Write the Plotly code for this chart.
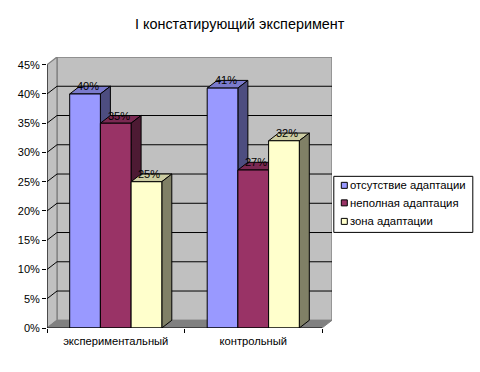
import plotly.graph_objects as go

categories = ["экспериментальный", "контрольный"]
series_names = ["отсутствие адаптации", "неполная адаптация", "зона адаптации"]
otsutstvie = [40, 41]
nepolnaya = [35, 27]
zona = [25, 32]
tick_values = [0, 5, 10, 15, 20, 25, 30, 35, 40, 45]
tick_labels = ["0%", "5%", "10%", "15%", "20%", "25%", "30%", "35%", "40%", "45%"]
title = "I констатирующий эксперимент"

W, H = 480, 372
L, R, T, B = 46.7, 331.7, 57.3, 328.0
DX = 10 / 137.5
DY = 7.7 / 5.84
BAR = 0.2233
START = 0.165
FONT = "Liberation Sans, Arial, sans-serif"

front = ["#9999FF", "#993366", "#FFFFCC"]
side = ["#4D4D80", "#4D1A33", "#808066"]
top = ["#7A7ACC", "#7A2952", "#CCCCA3"]
series = [otsutstvie, nepolnaya, zona]

fig = go.Figure()


def poly(xs, ys, fill, line, width=1):
    fig.add_trace(go.Scatter(x=xs, y=ys, mode="lines", fill="toself", fillcolor=fill,
                             line=dict(color=line, width=width), hoverinfo="skip",
                             showlegend=False, cliponaxis=False))


def seg(xs, ys, color, width=1):
    fig.add_trace(go.Scatter(x=xs, y=ys, mode="lines", line=dict(color=color, width=width),
                             hoverinfo="skip", showlegend=False, cliponaxis=False))


ymax = tick_values[-1]
n = len(categories)
# walls and floor
poly([DX, n + DX, n + DX, DX, DX], [DY, DY, ymax + DY, ymax + DY, DY], "#C0C0C0", "#808080", 1.3)
poly([0, DX, DX, 0, 0], [0, DY, ymax + DY, ymax, 0], "#C0C0C0", "#808080", 1.3)
poly([0, n, n + DX, DX, 0], [0, 0, DY, DY, 0], "#808080", "#808080", 1)
# grid
for v in tick_values[1:-1]:
    seg([0, DX, n + DX], [v, v + DY, v + DY], "black", 1)

# depth faces, back to front and left to right
for c in range(n):
    for s in range(3):
        v = series[s][c]
        x0 = c + START + s * BAR
        x1 = x0 + BAR
        poly([x0, x1, x1 + DX, x0 + DX, x0], [v, v, v + DY, v + DY, v], top[s], "black", 1)
        poly([x1, x1 + DX, x1 + DX, x1, x1], [0, DY, v + DY, v, 0], side[s], "black", 1)

# front faces on the overlay axes
for s in range(3):
    fig.add_trace(go.Bar(
        x=[c + START + (s + 0.5) * BAR for c in range(n)], y=series[s], width=BAR,
        name=series_names[s], marker=dict(color=front[s], line=dict(color="black", width=1)),
        xaxis="x2", yaxis="y2", showlegend=False,
        customdata=categories, hovertemplate="%{customdata}: %{y}%<extra>" + series_names[s] + "</extra>"))

# axis lines
for xs, ys in (([0, 0], [0, ymax]), ([0, n], [0, 0])):
    fig.add_trace(go.Scatter(x=xs, y=ys, mode="lines", line=dict(color="black", width=1),
                             xaxis="x2", yaxis="y2", hoverinfo="skip", showlegend=False,
                             cliponaxis=False))

annotations = []
# value labels
for c in range(n):
    for s in range(3):
        v = series[s][c]
        annotations.append(dict(x=c + START + (s + 0.5) * BAR + 0.022, y=v + DY, xref="x", yref="y",
                                text=f"{v}%", showarrow=False, font=dict(size=11, color="black", family=FONT)))

# "paper" coordinates span the plot area, so page pixels are converted against it
px = lambda x: (x - L) / (R - L)
py = lambda y: (B - y) / (B - T)
annotations.append(dict(x=px(239.5), y=py(24), xref="paper", yref="paper", xanchor="center", yanchor="middle",
                        text=title, showarrow=False, font=dict(size=14.4, color="black", family=FONT)))

# legend box
shapes = [dict(type="rect", xref="paper", yref="paper", x0=px(333.5), x1=px(472.5), y0=py(232.5), y1=py(176.5),
               fillcolor="white", line=dict(color="black", width=1))]
for s, yc in enumerate([185.5, 203, 221.5]):
    shapes.append(dict(type="rect", xref="paper", yref="paper", x0=px(341), x1=px(347), y0=py(yc + 3), y1=py(yc - 3),
                       fillcolor=front[s], line=dict(color="black", width=1)))
    annotations.append(dict(x=px(348), y=py(yc), xref="paper", yref="paper", xanchor="left", yanchor="middle",
                            text=series_names[s], showarrow=False,
                            font=dict(size=11.3, color="black", family=FONT)))

xr = [0, n + DX]
yr = [0, ymax + DY]
centers = [c + 0.5 for c in range(n)]
fig.update_layout(
    width=W, height=H, autosize=False, showlegend=False,
    paper_bgcolor="white", plot_bgcolor="rgba(0,0,0,0)",
    margin=dict(l=L, r=W - R, t=T, b=H - B, pad=0),
    barmode="overlay",
    annotations=annotations, shapes=shapes,
    font=dict(family=FONT, size=11, color="black"),
    xaxis=dict(range=xr, showgrid=False, zeroline=False, showline=False, tickmode="array",
               tickvals=centers, ticktext=categories, ticks="", ticklen=0, ticklabelstandoff=5,
               tickfont=dict(size=11.2, family=FONT, color="black"),
               minor=dict(tickvals=list(range(n + 1)), ticks="outside", ticklen=4, tickcolor="black", showgrid=False)),
    yaxis=dict(range=yr, showgrid=False, zeroline=False, showline=False, tickmode="array",
               tickvals=tick_values, ticktext=tick_labels, ticks="outside", ticklen=4, tickcolor="black",
               tickfont=dict(size=11, family=FONT, color="black")),
    xaxis2=dict(range=xr, overlaying="x", visible=False, matches="x"),
    yaxis2=dict(range=yr, overlaying="y", visible=False, matches="y"),
)
fig.write_html("out.html", config=dict(displayModeBar=False),
               post_script="document.body.style.margin='0';document.body.style.overflow='hidden';")
